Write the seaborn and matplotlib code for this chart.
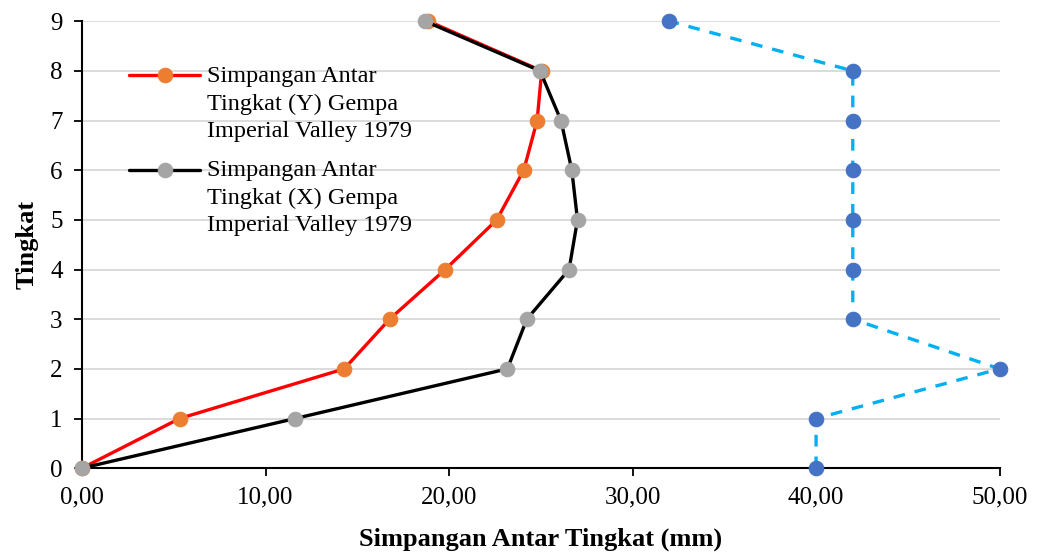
import numpy as np
import pandas as pd
import seaborn as sns
import matplotlib.pyplot as plt
from matplotlib.ticker import FuncFormatter
from matplotlib.legend_handler import HandlerLine2D

# data
tingkat = [0, 1, 2, 3, 4, 5, 6, 7, 8, 9]
drift_y = [0.0, 5.32, 14.29, 16.76, 19.79, 22.6, 24.07, 24.8, 25.05, 18.88]
drift_x = [0.0, 11.62, 23.18, 24.24, 26.54, 27.0, 26.69, 26.1, 24.96, 18.7]
batas = [40.0, 40.0, 50.0, 42.0, 42.0, 42.0, 42.0, 42.0, 42.0, 32.0]

label_y = "Simpangan Antar\nTingkat (Y) Gempa\nImperial Valley 1979"
label_x = "Simpangan Antar\nTingkat (X) Gempa\nImperial Valley 1979"

df_y = pd.DataFrame({"Simpangan": drift_y, "Tingkat": tingkat})
df_x = pd.DataFrame({"Simpangan": drift_x, "Tingkat": tingkat})
df_b = pd.DataFrame({"Simpangan": batas, "Tingkat": tingkat})


class TopLine(HandlerLine2D):
    # put the legend handle beside the first text line, like excel does
    def __init__(self, shift, **kw):
        super().__init__(**kw)
        self.shift = shift

    def create_artists(self, legend, orig_handle, xdescent, ydescent, width, height, fontsize, trans):
        arts = super().create_artists(legend, orig_handle, xdescent, ydescent, width, height, fontsize, trans)
        for a in arts:
            a.set_ydata(np.asarray(a.get_ydata()) + self.shift)
        return arts


sns.set_theme(style="white")
plt.rcParams['font.family'] = ['Liberation Serif', 'DejaVu Serif']
plt.rcParams['text.color'] = 'black'
plt.rcParams['axes.labelcolor'] = 'black'

fig = plt.figure(figsize=(10.38, 5.58), dpi=100)
ax = fig.add_axes([0.079, 0.161, 0.884, 0.801])

sns.lineplot(data=df_y, x="Simpangan", y="Tingkat", sort=False, estimator=None,
             color="#ff0000", linewidth=2.4, marker="o", markersize=10.5,
             markerfacecolor="#ed7d31", markeredgecolor="#ed7d31", label=label_y, ax=ax)
sns.lineplot(data=df_x, x="Simpangan", y="Tingkat", sort=False, estimator=None,
             color="#000000", linewidth=2.4, marker="o", markersize=10.5,
             markerfacecolor="#a5a5a5", markeredgecolor="#a5a5a5", label=label_x, ax=ax)
sns.lineplot(data=df_b, x="Simpangan", y="Tingkat", sort=False, estimator=None,
             color="#00b0f0", linewidth=2.4, linestyle=(0, (3.5, 3)), marker="o", markersize=10.5,
             markerfacecolor="#4472c4", markeredgecolor="#4472c4", legend=False, ax=ax)
for line in ax.lines:
    line.set_clip_on(False)
    line.set_zorder(5)

ax.set_xlim(0, 50)
ax.set_ylim(0, 9)
ax.set_xticks(np.arange(0, 51, 10))
ax.set_yticks(range(0, 10))
ax.xaxis.set_major_formatter(FuncFormatter(lambda v, p: f"{v:.2f}".replace(".", ",")))
ax.grid(axis="y", color="#d9d9d9", linewidth=1.3)
ax.set_axisbelow(True)
for side in ["top", "right"]:
    ax.spines[side].set_visible(False)
for side in ["left", "bottom"]:
    ax.spines[side].set_color("black")
    ax.spines[side].set_linewidth(1.5)
ax.tick_params(axis="both", which="both", direction="out", length=6, width=1.3,
               color="black", labelsize=18, bottom=True, left=True, labelcolor="black")
ax.tick_params(axis="x", pad=7)
ax.tick_params(axis="y", pad=8)

ax.set_xlabel("Simpangan Antar Tingkat (mm)", fontsize=19, fontweight="bold", labelpad=14, color="black")
ax.set_ylabel("Tingkat", fontsize=19, fontweight="bold", labelpad=8, color="black")

leg = ax.legend(loc="upper left", bbox_to_anchor=(0.041, 0.921), frameon=False,
                fontsize=17.5, handlelength=2.9, labelspacing=0.77, handletextpad=0.3,
                borderaxespad=0,
                handler_map={ax.lines[0]: TopLine(20.2), ax.lines[1]: TopLine(20.2)})
for t in leg.get_texts():
    t.set_linespacing(1.38)
    t.set_color("black")

fig.savefig("out.png", dpi=100)
